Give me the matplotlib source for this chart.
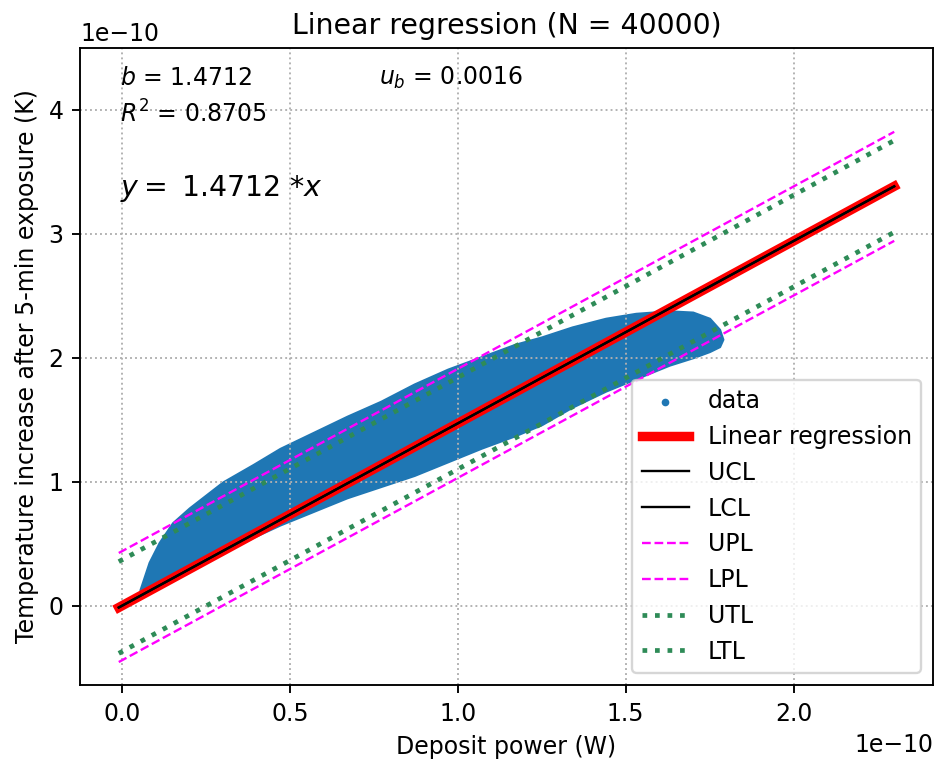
import numpy as np
import matplotlib
matplotlib.use("Agg")
import matplotlib.pyplot as plt

SCALE = 1e-10
# Regression results
N = 40000
b = 1.4712
u_b = 0.0016
R2 = 0.8705
# half-widths of the intervals (in units of 1e-10 K)
cl_half = 0.0
pl_half = 0.44
tl_half = 0.37
# x range of the fitted lines (units of 1e-10 W)
x_fit = [-0.01, 2.30]

# envelope of the 40000-point data cloud (units of 1e-10)
cloud_x = [0.053, 0.08, 0.11, 0.15, 0.20, 0.30, 0.39, 0.47, 0.57, 0.67, 0.77,
           0.87, 0.97, 1.07, 1.17, 1.25, 1.34, 1.44, 1.53, 1.63, 1.70, 1.75,
           1.78, 1.79]
cloud_upper = [0.13, 0.35, 0.51, 0.67, 0.79, 1.00, 1.14, 1.27, 1.40, 1.53, 1.65,
               1.79, 1.91, 2.01, 2.11, 2.17, 2.25, 2.32, 2.36, 2.38, 2.37, 2.32,
               2.23, 2.15]
cloud_lower = [0.12, 0.13, 0.15, 0.21, 0.28, 0.43, 0.55, 0.65, 0.76, 0.87, 0.96,
               1.05, 1.16, 1.27, 1.37, 1.46, 1.60, 1.73, 1.83, 1.94, 2.00, 2.05,
               2.09, 2.15]

fig = plt.figure(figsize=(935 / 170, 762 / 170), dpi=170)
ax = fig.add_axes([80 / 935, 1 - 685 / 762, (933 - 80) / 935, (685 - 48) / 762])

cx = np.array(cloud_x) * SCALE
ax.scatter([], [], s=5, color="#1f77b4", label="data")
ax.fill_between(cx, np.array(cloud_lower) * SCALE, np.array(cloud_upper) * SCALE,
                color="#1f77b4", linewidth=0.8, edgecolor="#1f77b4")

xf = np.array(x_fit) * SCALE
yf = b * xf
ax.plot(xf, yf, color="red", lw=4, label="Linear regression")
ax.plot(xf, yf + cl_half * SCALE, color="black", lw=1, label="UCL")
ax.plot(xf, yf - cl_half * SCALE, color="black", lw=1, label="LCL")
ax.plot(xf, yf + pl_half * SCALE, color="magenta", lw=1, ls="--", label="UPL")
ax.plot(xf, yf - pl_half * SCALE, color="magenta", lw=1, ls="--", label="LPL")
ax.plot(xf, yf + tl_half * SCALE, color="seagreen", lw=2, ls=":", label="UTL")
ax.plot(xf, yf - tl_half * SCALE, color="seagreen", lw=2, ls=":", label="LTL")

ax.set_ylim(-0.64e-10, 4.5e-10)
ax.grid(True, linestyle=":")
ax.set_title(f"Linear regression (N = {N})", fontsize=12)
ax.set_xlabel("Deposit power (W)")
ax.set_ylabel("Temperature increase after 5-min exposure (K)")

ax.text(0.047, 0.953, f"$b$ = {b:.4f}", transform=ax.transAxes, va="center")
ax.text(0.35, 0.953, f"$u_b$ = {u_b:.4f}", transform=ax.transAxes, va="center")
ax.text(0.047, 0.897, f"$R^2$ = {R2:.4f}", transform=ax.transAxes, va="center")
ax.text(0.047, 0.78, f"$y = $ {b:.4f} *$x$", transform=ax.transAxes, va="center",
        fontsize=12)

ax.legend(loc="lower right")
fig.savefig("out.png", dpi=170)
